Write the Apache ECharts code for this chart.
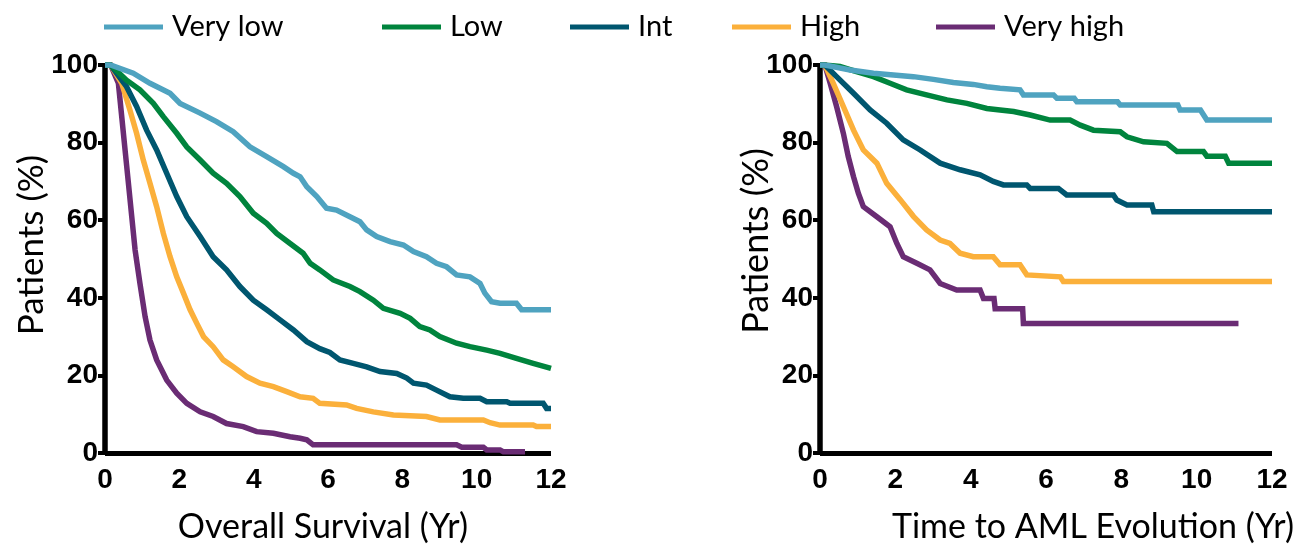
<!DOCTYPE html>
<html>
<head>
<meta charset="utf-8">
<script src="https://cdn.jsdelivr.net/npm/echarts@6/dist/echarts.min.js"></script>
<style>html,body{margin:0;padding:0;background:#fff;}#c{width:1302px;height:549px;}</style>
</head>
<body>
<div id="c"></div>
<script>
// ---- data (years, % patients) ----
var groupNames = ['Very low', 'Low', 'Int', 'High', 'Very high'];
var groupColors = ['#4fa3c0', '#00843d', '#00566f', '#fbb03b', '#6a2c74'];
var xTicks = [0, 2, 4, 6, 8, 10, 12];
var yTicks = [0, 20, 40, 60, 80, 100];

var osVeryLow = [[0,100],[0.15,100],[0.76,97.9],[1.21,95.3],[1.75,92.7],[2.02,90.1],[2.56,87.6],[3.0,85.4],[3.45,82.8],[3.9,78.9],[4.35,76.4],[4.8,73.8],[5.07,72.1],[5.25,71.2],[5.43,68.6],[5.7,66.1],[5.96,63.1],[6.23,62.6],[6.59,60.9],[6.86,59.6],[7.04,57.5],[7.31,55.8],[7.67,54.5],[8.03,53.6],[8.3,51.9],[8.65,50.6],[8.92,48.9],[9.19,48.0],[9.46,45.9],[9.82,45.4],[10.09,43.7],[10.22,41.2],[10.4,39.0],[10.63,38.6],[11.07,38.6],[11.21,36.9],[12.0,36.9]];
var osLow = [[0,100],[0.15,100],[0.58,96.1],[0.94,93.6],[1.3,90.1],[1.57,86.7],[1.93,82.4],[2.2,78.9],[2.56,75.5],[2.91,72.1],[3.27,69.5],[3.63,66.1],[3.99,61.8],[4.35,59.2],[4.62,56.6],[4.98,54.0],[5.33,51.5],[5.52,48.9],[5.78,47.2],[6.14,44.6],[6.59,42.9],[6.86,41.6],[7.22,39.4],[7.49,37.3],[7.94,36.0],[8.21,34.7],[8.47,32.6],[8.74,31.7],[9.01,30.0],[9.46,28.3],[9.82,27.4],[10.27,26.5],[10.63,25.7],[11.07,24.4],[11.52,23.1],[12.0,21.8]];
var osInt = [[0,100],[0.15,100],[0.58,94.4],[0.85,89.3],[1.12,83.2],[1.39,78.1],[1.66,72.1],[1.93,66.1],[2.2,60.9],[2.56,55.8],[2.91,50.6],[3.27,47.2],[3.63,42.9],[3.99,39.4],[4.35,36.9],[4.71,34.3],[5.07,31.7],[5.43,28.7],[5.78,26.9],[6.05,25.9],[6.32,24.0],[6.68,23.1],[7.04,22.2],[7.4,21.0],[7.85,20.5],[8.12,19.3],[8.3,18.0],[8.65,17.5],[8.92,16.2],[9.28,14.5],[9.64,14.1],[10.09,14.1],[10.27,13.2],[10.81,13.2],[10.9,12.8],[11.79,12.8],[11.88,11.5],[12.0,11.5]];
var osHigh = [[0,100],[0.15,100],[0.45,95.3],[0.67,88.4],[0.85,82.4],[1.03,75.5],[1.21,69.5],[1.39,63.5],[1.57,56.6],[1.75,50.6],[1.93,45.4],[2.11,41.2],[2.29,36.9],[2.47,33.4],[2.65,30.0],[2.91,27.4],[3.18,24.0],[3.45,22.2],[3.81,19.7],[4.17,18.0],[4.53,17.1],[4.89,15.8],[5.25,14.5],[5.6,14.1],[5.78,12.8],[6.5,12.4],[6.77,11.5],[7.22,10.6],[7.76,9.8],[8.65,9.4],[9.01,8.5],[10.18,8.5],[10.36,7.8],[10.63,7.2],[11.52,7.2],[11.61,6.8],[12.0,6.8]];
var osVeryHigh = [[0,100],[0.15,100],[0.36,95.3],[0.45,86.7],[0.54,78.1],[0.63,69.5],[0.72,60.9],[0.81,52.3],[0.94,43.7],[1.08,35.1],[1.21,29.1],[1.39,24.0],[1.66,18.8],[1.93,15.4],[2.2,12.8],[2.56,10.6],[2.91,9.4],[3.27,7.6],[3.72,6.8],[4.08,5.5],[4.53,5.1],[4.98,4.2],[5.25,3.8],[5.43,3.4],[5.6,2.1],[9.46,2.1],[9.6,1.5],[10.18,1.5],[10.27,0.8],[10.63,0.8],[10.72,0.3],[11.3,0.3]];

var amlVeryLow = [[0,100],[0.13,100],[0.8,98.7],[1.42,97.9],[1.95,97.4],[2.48,97.0],[3.01,96.3],[3.54,95.5],[4.07,95.0],[4.43,94.4],[4.78,94.0],[5.31,93.6],[5.4,92.3],[6.2,92.3],[6.29,91.4],[6.75,91.4],[6.82,90.5],[7.9,90.5],[7.97,89.7],[9.5,89.7],[9.56,88.4],[10.1,88.4],[10.27,85.8],[12,85.8]];
var amlLow = [[0,100],[0.13,100],[0.53,99.6],[0.97,98.3],[1.42,97.0],[1.86,95.3],[2.3,93.6],[2.83,92.3],[3.37,91.0],[3.9,90.1],[4.43,88.8],[4.78,88.4],[5.14,88.0],[5.58,87.1],[6.11,85.8],[6.64,85.8],[6.91,84.5],[7.26,83.2],[7.97,82.8],[8.15,81.5],[8.59,80.2],[9.21,79.8],[9.48,77.7],[10.18,77.7],[10.27,76.5],[10.76,76.5],[10.85,74.7],[12,74.7]];
var amlInt = [[0,100],[0.13,100],[0.44,97.0],[0.89,92.7],[1.33,88.4],[1.77,85.0],[2.21,80.7],[2.66,78.1],[3.19,74.7],[3.72,73.0],[4.25,71.7],[4.6,70.0],[4.87,69.1],[5.49,69.1],[5.58,68.2],[6.33,68.2],[6.55,66.5],[7.79,66.5],[7.88,65.2],[8.15,63.9],[8.81,63.9],[8.86,62.2],[12,62.2]];
var amlHigh = [[0,100],[0.13,100],[0.35,95.3],[0.62,89.3],[0.89,83.2],[1.15,78.1],[1.51,74.7],[1.77,69.5],[2.13,65.3],[2.48,61.0],[2.83,57.5],[3.19,54.9],[3.45,54.0],[3.72,51.5],[4.07,50.6],[4.6,50.6],[4.78,48.5],[5.31,48.5],[5.49,45.9],[6.38,45.4],[6.46,44.2],[12,44.2]];
var amlVeryHigh = [[0,100],[0.13,100],[0.27,95.3],[0.44,89.3],[0.62,82.4],[0.75,76.4],[0.89,71.2],[1.02,66.9],[1.15,63.5],[1.51,60.9],[1.86,58.3],[2.04,54.0],[2.21,50.6],[2.57,48.9],[2.92,47.2],[3.19,43.7],[3.63,42.0],[4.25,42.0],[4.34,39.8],[4.62,39.8],[4.65,37.2],[5.38,37.2],[5.4,33.4],[11.11,33.4]];

var osSeries = [osVeryLow, osLow, osInt, osHigh, osVeryHigh];
var amlSeries = [amlVeryLow, amlLow, amlInt, amlHigh, amlVeryHigh];
var xTitles = ['Overall Survival (Yr)', 'Time to AML Evolution (Yr)'];
var yTitle = 'Patients (%)';

// ---- chart ----
var chart = echarts.init(document.getElementById('c'), null, {renderer: 'canvas'});
var tickFont = {fontFamily: 'Liberation Sans', fontWeight: 'bold', fontSize: 28, color: '#000'};
var textFont = 'Lato';

function makeX(i) {
  return {
    type: 'value', gridIndex: i, min: xTicks[0], max: xTicks[xTicks.length - 1],
    interval: xTicks[1] - xTicks[0],
    axisLine: {show: true, onZero: false, lineStyle: {color: '#000', width: 5, cap: 'butt'}},
    axisTick: {show: false},
    splitLine: {show: false},
    axisLabel: Object.assign({margin: 13}, tickFont)
  };
}
function makeY(i) {
  return {
    type: 'value', gridIndex: i, min: yTicks[0], max: yTicks[yTicks.length - 1],
    interval: yTicks[1] - yTicks[0],
    axisLine: {show: true, onZero: false, lineStyle: {color: '#000', width: 5.5, cap: 'butt'}},
    axisTick: {show: true, length: 7, lineStyle: {color: '#000', width: 4}},
    splitLine: {show: false},
    axisLabel: Object.assign({margin: 7}, tickFont)
  };
}

var series = [];
[osSeries, amlSeries].forEach(function (set, gi) {
  set.forEach(function (data, k) {
    series.push({
      name: groupNames[k], type: 'line', xAxisIndex: gi, yAxisIndex: gi,
      data: data, showSymbol: false, symbol: 'none', smooth: false,
      lineStyle: {color: groupColors[k], width: 5.5, join: 'miter'},
      itemStyle: {color: groupColors[k]},
      z: 10 - k, animation: false
    });
  });
});

var legendLefts = [99, 377, 565, 727, 931];
var legends = groupNames.map(function (n, k) {
  return {
    data: [n], left: legendLefts[k], top: 7, orient: 'horizontal',
    icon: 'rect', itemWidth: 59, itemHeight: 5, itemGap: 0,
    selectedMode: false,
    textStyle: {fontFamily: textFont, fontSize: 29, color: '#000', padding: [0, 0, 0, 4], lineHeight: 30}
  };
});

var option = {
  backgroundColor: '#fff',
  animation: false,
  legend: legends,
  grid: [
    {left: 105, top: 65, width: 446, height: 388, containLabel: false},
    {left: 820, top: 65, width: 452, height: 388, containLabel: false}
  ],
  xAxis: [makeX(0), makeX(1)],
  yAxis: [makeY(0), makeY(1)],
  series: series,
  graphic: [
    {type: 'text', x: 32, y: 245, rotation: Math.PI / 2,
      style: {text: yTitle, fontFamily: textFont, fontSize: 35, fill: '#000', align: 'center', verticalAlign: 'middle'}},
    {type: 'text', x: 756, y: 241, rotation: Math.PI / 2,
      style: {text: yTitle, fontFamily: textFont, fontSize: 36, fill: '#000', align: 'center', verticalAlign: 'middle'}},
    {type: 'text', x: 323, y: 527,
      style: {text: xTitles[0], fontFamily: textFont, fontSize: 34, fill: '#000', align: 'center', verticalAlign: 'middle'}},
    {type: 'text', x: 1093, y: 527,
      style: {text: xTitles[1], fontFamily: textFont, fontSize: 34, fill: '#000', align: 'center', verticalAlign: 'middle'}}
  ]
};
chart.setOption(option);
</script>
</body>
</html>
